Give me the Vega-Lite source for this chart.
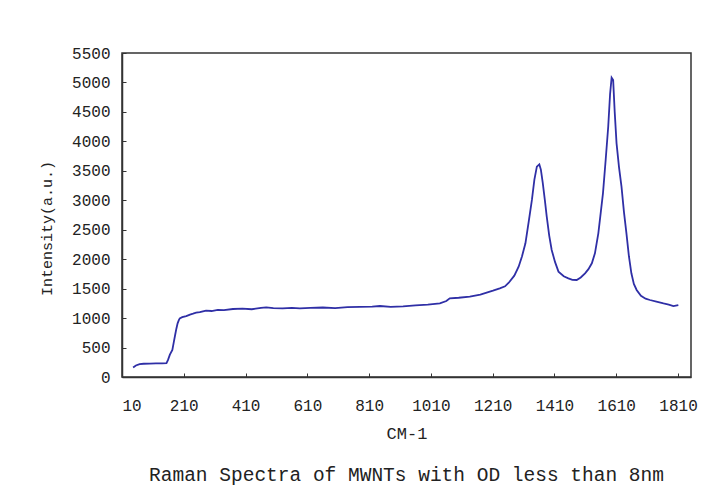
{
  "$schema": "https://vega.github.io/schema/vega-lite/v6.json",
  "width": 569,
  "height": 324,
  "autosize": {"type": "none"},
  "padding": {"left": 122, "top": 53, "right": 37, "bottom": 122},
  "background": "white",
  "config": {
    "view": {"stroke": "#333333", "strokeWidth": 1.5},
    "font": "Liberation Mono"
  },
  "title": {
    "text": "Raman Spectra of MWNTs with OD less than 8nm",
    "orient": "bottom",
    "anchor": "middle",
    "font": "Liberation Mono",
    "fontSize": 19.5,
    "fontWeight": "normal",
    "color": "#222222",
    "offset": 25
  },
  "data": {
    "values": [
      {"x": 46, "y": 160}, {"x": 55, "y": 195}, {"x": 67, "y": 220}, {"x": 80, "y": 225},
      {"x": 100, "y": 228}, {"x": 120, "y": 230}, {"x": 140, "y": 232}, {"x": 154, "y": 235},
      {"x": 159, "y": 290}, {"x": 165, "y": 380}, {"x": 173, "y": 460}, {"x": 178, "y": 600},
      {"x": 182, "y": 713}, {"x": 186, "y": 820}, {"x": 190, "y": 911}, {"x": 194, "y": 965},
      {"x": 197, "y": 996}, {"x": 205, "y": 1015}, {"x": 218, "y": 1035}, {"x": 230, "y": 1060},
      {"x": 240, "y": 1075}, {"x": 250, "y": 1092}, {"x": 262, "y": 1100}, {"x": 272, "y": 1115},
      {"x": 282, "y": 1126}, {"x": 300, "y": 1120}, {"x": 320, "y": 1140}, {"x": 340, "y": 1135},
      {"x": 369, "y": 1154}, {"x": 400, "y": 1160}, {"x": 430, "y": 1150}, {"x": 460, "y": 1175},
      {"x": 477, "y": 1183}, {"x": 500, "y": 1170}, {"x": 530, "y": 1165}, {"x": 560, "y": 1172},
      {"x": 586, "y": 1166}, {"x": 620, "y": 1175}, {"x": 660, "y": 1180}, {"x": 700, "y": 1170},
      {"x": 740, "y": 1185}, {"x": 780, "y": 1190}, {"x": 820, "y": 1195}, {"x": 845, "y": 1205},
      {"x": 880, "y": 1190}, {"x": 920, "y": 1200}, {"x": 960, "y": 1215}, {"x": 1000, "y": 1230},
      {"x": 1039, "y": 1250}, {"x": 1060, "y": 1290}, {"x": 1071, "y": 1336}, {"x": 1100, "y": 1345},
      {"x": 1136, "y": 1363}, {"x": 1170, "y": 1400}, {"x": 1211, "y": 1465}, {"x": 1233, "y": 1505},
      {"x": 1250, "y": 1540}, {"x": 1262, "y": 1600}, {"x": 1280, "y": 1720}, {"x": 1294, "y": 1872},
      {"x": 1305, "y": 2050}, {"x": 1316, "y": 2269}, {"x": 1327, "y": 2650}, {"x": 1337, "y": 3005},
      {"x": 1345, "y": 3350}, {"x": 1353, "y": 3570}, {"x": 1361, "y": 3610}, {"x": 1366, "y": 3520},
      {"x": 1372, "y": 3300}, {"x": 1379, "y": 3000}, {"x": 1385, "y": 2721}, {"x": 1393, "y": 2400},
      {"x": 1401, "y": 2156}, {"x": 1412, "y": 1950}, {"x": 1423, "y": 1788}, {"x": 1440, "y": 1710},
      {"x": 1455, "y": 1675}, {"x": 1468, "y": 1650}, {"x": 1482, "y": 1647}, {"x": 1495, "y": 1690},
      {"x": 1509, "y": 1760}, {"x": 1520, "y": 1830}, {"x": 1531, "y": 1930}, {"x": 1541, "y": 2100},
      {"x": 1552, "y": 2439}, {"x": 1560, "y": 2800}, {"x": 1567, "y": 3118}, {"x": 1576, "y": 3700},
      {"x": 1584, "y": 4249}, {"x": 1590, "y": 4800}, {"x": 1595, "y": 5080}, {"x": 1600, "y": 5040},
      {"x": 1605, "y": 4500}, {"x": 1611, "y": 3967}, {"x": 1619, "y": 3560}, {"x": 1627, "y": 3230},
      {"x": 1635, "y": 2800}, {"x": 1643, "y": 2439}, {"x": 1651, "y": 2050}, {"x": 1659, "y": 1760},
      {"x": 1667, "y": 1580}, {"x": 1676, "y": 1477}, {"x": 1690, "y": 1380}, {"x": 1705, "y": 1330},
      {"x": 1719, "y": 1307}, {"x": 1740, "y": 1280}, {"x": 1763, "y": 1250}, {"x": 1780, "y": 1230},
      {"x": 1795, "y": 1205}, {"x": 1811, "y": 1222}
    ]
  },
  "mark": {"type": "line", "color": "#2f2fa6", "strokeWidth": 1.8, "clip": true},
  "encoding": {
    "x": {
      "field": "x",
      "type": "quantitative",
      "scale": {"domain": [10, 1852], "nice": false, "zero": false},
      "axis": {
        "title": "CM-1",
        "values": [10, 210, 410, 610, 810, 1010, 1210, 1410, 1610, 1810],
        "format": "d",
        "grid": false,
        "domainColor": "#333333",
        "domainWidth": 1.5,
        "tickColor": "#333333",
        "tickSize": -4,
        "labelPadding": 24,
        "labelFont": "Liberation Mono",
        "labelFontSize": 16,
        "labelColor": "#222222",
        "titleFont": "Liberation Mono",
        "titleFontSize": 17,
        "titleFontWeight": "normal",
        "titleColor": "#222222",
        "titlePadding": 12
      }
    },
    "y": {
      "field": "y",
      "type": "quantitative",
      "scale": {"domain": [0, 5500], "nice": false},
      "axis": {
        "title": "Intensity(a.u.)",
        "values": [0, 500, 1000, 1500, 2000, 2500, 3000, 3500, 4000, 4500, 5000, 5500],
        "format": "d",
        "grid": false,
        "domainColor": "#333333",
        "domainWidth": 1.5,
        "tickColor": "#333333",
        "tickSize": -4,
        "labelPadding": 16,
        "labelFont": "Liberation Mono",
        "labelFontSize": 16,
        "labelColor": "#222222",
        "titleFont": "Liberation Mono",
        "titleFontSize": 15,
        "titleFontWeight": "normal",
        "titleColor": "#222222",
        "titlePadding": 17,
        "titleY": 175
      }
    }
  }
}
